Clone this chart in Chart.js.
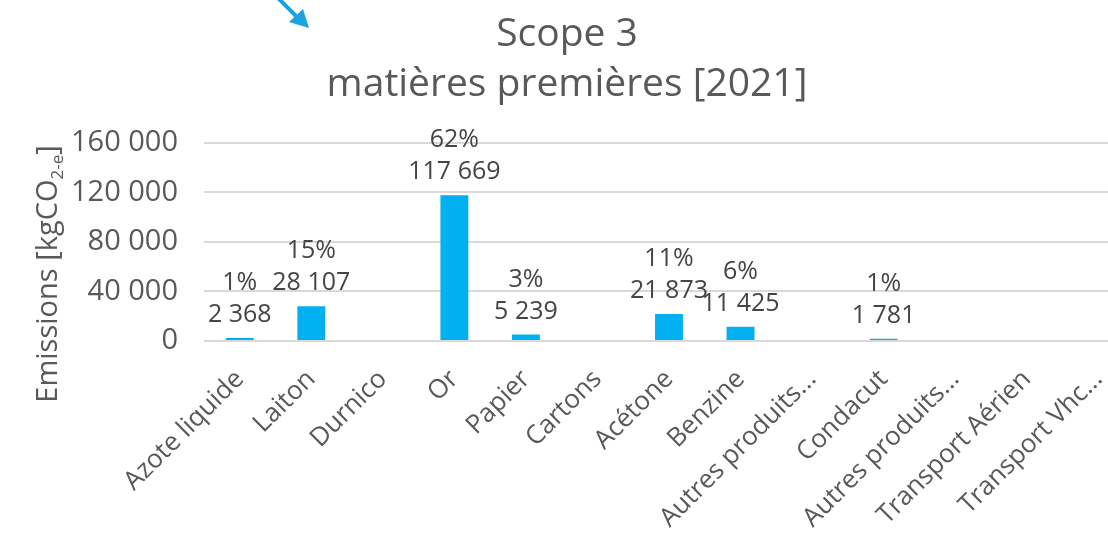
<!DOCTYPE html>
<html>
<head>
<meta charset="utf-8">
<script src="https://cdn.jsdelivr.net/npm/chart.js@4.4.1/dist/chart.umd.min.js"></script>
<style>
  html, body { margin: 0; padding: 0; background: #fff; overflow: hidden; }
  #wrap { width: 1152px; height: 543px; }
</style>
</head>
<body>
<div id="wrap"><canvas id="chart" width="1152" height="543"></canvas></div>
<script>
// categories and values
const categories = ['Azote liquide', 'Laiton', 'Durnico', 'Or', 'Papier', 'Cartons', 'Acétone',
    'Benzine', 'Autres produits...', 'Condacut', 'Autres produits...', 'Transport Aérien', 'Transport Vhc...'];
const emissions = [2368, 28107, null, 117669, 5239, null, 21873, 11425, null, 1781, null, null, null];
const shareLabels = ['1%', '15%', '', '62%', '3%', '', '11%', '6%', '', '1%', '', '', ''];
const yTicks = [0, 40000, 80000, 120000, 160000];

const FONT = '"Open Sans", "DejaVu Sans", sans-serif';
const GREY = '#595959';

// 117669 -> "117 669"
function fmt(v) {
    return String(v).replace(/\B(?=(\d{3})+(?!\d))/g, ' ');
}

// two-line labels above each bar (share + value)
const barLabels = {
    id: 'barLabels',
    afterDatasetsDraw(chart) {
        const ctx = chart.ctx;
        const meta = chart.getDatasetMeta(0);
        ctx.save();
        ctx.fillStyle = '#454545';
        ctx.font = '25px ' + FONT;
        ctx.textAlign = 'center';
        ctx.textBaseline = 'alphabetic';
        meta.data.forEach((bar, i) => {
            const v = emissions[i];
            if (v == null) return;
            ctx.fillText(fmt(v), bar.x, bar.y - 16);
            ctx.fillText(shareLabels[i], bar.x, bar.y - 48);
        });
        ctx.restore();
    }
};

// y axis title with a real subscript, drawn left of the tick labels
const yTitle = {
    id: 'yTitle',
    afterDraw(chart) {
        const ctx = chart.ctx;
        const main = 'Emissions [kgCO';
        const sub = '2-e';
        const tail = ']';
        ctx.save();
        ctx.fillStyle = GREY;
        ctx.textBaseline = 'alphabetic';
        ctx.font = '29px ' + FONT;
        const wMain = ctx.measureText(main).width;
        const wTail = ctx.measureText(tail).width;
        ctx.font = '17px ' + FONT;
        const wSub = ctx.measureText(sub).width;
        const total = wMain + wSub + wTail;
        ctx.translate(57, 274);
        ctx.rotate(-Math.PI / 2);
        let x = -total / 2;
        ctx.font = '29px ' + FONT;
        ctx.fillText(main, x, 0);
        x += wMain;
        ctx.font = '17px ' + FONT;
        ctx.fillText(sub, x, 6);
        x += wSub;
        ctx.font = '29px ' + FONT;
        ctx.fillText(tail, x, 0);
        ctx.restore();
    }
};

// blue arrow from the slide, top left
const slideArrow = {
    id: 'slideArrow',
    afterDraw(chart) {
        const ctx = chart.ctx;
        ctx.save();
        ctx.strokeStyle = '#1BA3DE';
        ctx.fillStyle = '#1BA3DE';
        ctx.lineWidth = 4;
        ctx.beginPath();
        ctx.moveTo(276, -4);
        ctx.lineTo(296, 16);
        ctx.stroke();
        ctx.beginPath();
        ctx.moveTo(309, 28);
        ctx.lineTo(289, 22);
        ctx.lineTo(303, 9);
        ctx.closePath();
        ctx.fill();
        ctx.restore();
    }
};

new Chart(document.getElementById('chart'), {
    type: 'bar',
    data: {
        labels: categories,
        datasets: [{
            label: 'Emissions',
            data: emissions,
            backgroundColor: '#00B0F0',
            borderWidth: 0,
            categoryPercentage: 1,
            barPercentage: 0.39
        }]
    },
    options: {
        responsive: false,
        animation: false,
        layout: { padding: { left: 0, right: 18, top: 0, bottom: 0 } },
        plugins: {
            legend: { display: false },
            tooltip: { enabled: false },
            title: {
                display: true,
                text: ['Scope 3', 'matières premières [2021]'],
                color: GREY,
                font: { family: FONT, size: 39, weight: 'normal', lineHeight: 1.28 },
                padding: { top: 10, bottom: 33 }
            }
        },
        scales: {
            x: {
                grid: { display: false },
                border: { display: false },
                ticks: {
                    color: GREY,
                    font: { family: FONT, size: 26 },
                    autoSkip: false,
                    minRotation: 45,
                    maxRotation: 45,
                    padding: 15
                },
                afterFit(scale) { scale.height = 202; }
            },
            y: {
                min: 0,
                max: 160000,
                afterBuildTicks(scale) { scale.ticks = yTicks.map(v => ({ value: v })); },
                grid: { color: '#D9D9D9', lineWidth: 2, drawTicks: false },
                border: { display: false },
                ticks: {
                    color: GREY,
                    font: { family: FONT, size: 29 },
                    padding: 26,
                    callback: v => fmt(v)
                },
                afterFit(scale) { scale.width = 204; }
            }
        }
    },
    plugins: [barLabels, yTitle, slideArrow]
});
</script>
</body>
</html>
